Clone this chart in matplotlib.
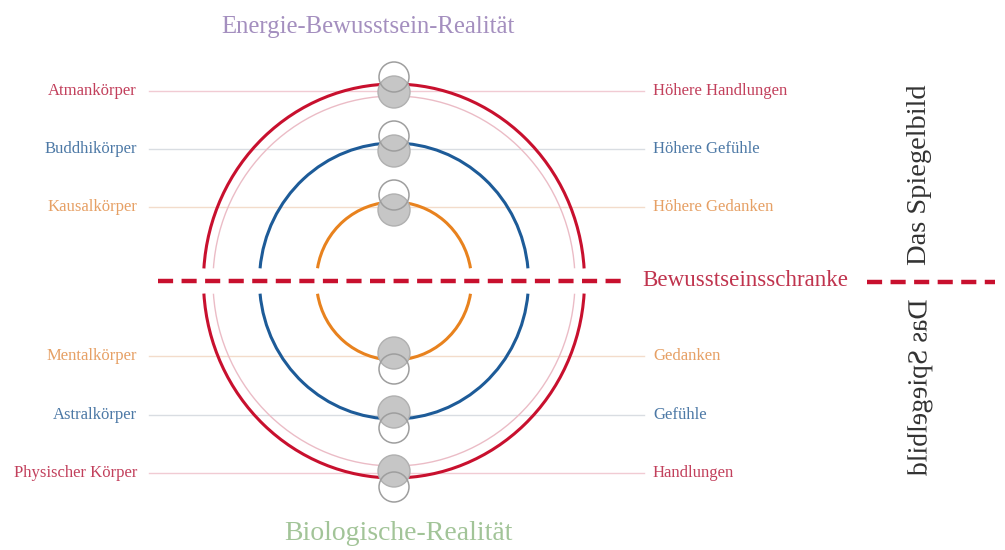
import matplotlib
matplotlib.use("Agg")
import matplotlib.pyplot as plt
from matplotlib.patches import Arc, Circle
from matplotlib import patheffects
from matplotlib.transforms import Affine2D
import numpy as np

# ---------------- data ----------------
title_top = "Energie-Bewusstsein-Realität"
title_bottom = "Biologische-Realität"
barrier_label = "Bewusstseinsschranke"
mirror_label = "Das Spiegelbild"

left_labels = ["Atmankörper", "Buddhikörper", "Kausalkörper",
               "Mentalkörper", "Astralkörper", "Physischer Körper"]
right_labels = ["Höhere Handlungen", "Höhere Gefühle", "Höhere Gedanken",
                "Gedanken", "Gefühle", "Handlungen"]
ring_names = ["Atman", "Buddhi", "Kausal"]          # outer -> inner
ring_of_row = [0, 1, 2, 2, 1, 0]                      # ring each row belongs to

# ---------------- layout / style ----------------
W, H = 1005, 550
cx, cy = 394, 281
ring_rx = [190.5, 134.5, 77.5]
ring_ry = [197, 138, 79]
thin_rx, thin_ry = 181, 185
gap = 13
row_y = [91, 149, 207, 356, 415, 473]

ring_colors = ["#c8102e", "#1d5b98", "#e8821e"]
label_colors = ["#c2405c", "#4d79a6", "#e6a065"]
hline_colors = ["#f1cbd3", "#d9dde2", "#f3dccb"]

SERIF = ["Liberation Serif", "DejaVu Serif"]

fig = plt.figure(figsize=(W / 100, H / 100), dpi=100)
ax = fig.add_axes([0, 0, 1, 1])
ax.set_xlim(0, W)
ax.set_ylim(H, 0)
ax.axis("off")

# horizontal guide lines
for y, r in zip(row_y, ring_of_row):
    ax.plot([149, 644], [y, y], color=hline_colors[r], lw=1.0, zorder=1)


def gapped_arcs(rx, ry, color, lw, z):
    a = np.degrees(np.arcsin(gap / ry))
    for t1, t2 in [(a, 180 - a), (180 + a, 360 - a)]:
        ax.add_patch(Arc((cx, cy), 2 * rx, 2 * ry, theta1=t1, theta2=t2,
                         color=color, lw=lw, zorder=z))


gapped_arcs(thin_rx, thin_ry, "#ebbcc6", 1.0, 2)
for rx, ry, c in zip(ring_rx, ring_ry, ring_colors):
    gapped_arcs(rx, ry, c, 2.2, 3)

# gray nodes at top and bottom of each ring
for ry in ring_ry:
    top = cy - ry
    bot = cy + ry
    for fy, hy in [(top + 8, top - 7), (bot - 7, bot + 9)]:
        ax.add_patch(Circle((cx, fy), 16, facecolor="#c6c6c6",
                            edgecolor="#b0b0b0", lw=1.0, zorder=4))
        ax.add_patch(Circle((cx, hy), 15, facecolor="none",
                            edgecolor="#9e9e9e", lw=1.1, zorder=5))

# labels
for y, r, lt, rt in zip(row_y, ring_of_row, left_labels, right_labels):
    ax.text(137, y, lt, ha="right", va="center", color=label_colors[r],
            fontsize=12, family=SERIF, zorder=6)
    ax.text(653, y, rt, ha="left", va="center", color=label_colors[r],
            fontsize=12, family=SERIF, zorder=6)

# barrier line
ls = (0, (3.4, 1.9))
ax.plot([158, 626], [280.5, 280.5], color="#c8102e", lw=3.2, ls=ls, zorder=7)
ax.plot([867, 995], [281.5, 281.5], color="#c8102e", lw=3.2, ls=ls, zorder=7)
ax.text(642, cy, barrier_label, ha="left", va="center", color="#c0344e",
        fontsize=16.6, family=SERIF, zorder=7)

# titles
ax.text(368, 27, title_top, ha="center", va="center", color="#a48fbf",
        fontsize=17.8, family=SERIF)
ax.text(398, 533, title_bottom, ha="center", va="center", color="#a2c498",
        fontsize=20, family=SERIF)


# mirrored text via a path effect (text remains a real Text artist)
class VerticalMirror(patheffects.AbstractPathEffect):
    def draw_path(self, renderer, gc, tpath, affine, rgbFace=None):
        ext = tpath.get_extents(affine)
        yc = (ext.y0 + ext.y1) / 2
        m = affine + Affine2D().translate(0, -yc).scale(1, -1).translate(0, yc)
        renderer.draw_path(gc, tpath, m, rgbFace)


ax.text(920, 175, mirror_label, rotation=90, ha="center", va="center",
        color="#333333", fontsize=20.5, family=SERIF)
ax.text(920, 388, mirror_label, rotation=90, ha="center", va="center",
        color="#333333", fontsize=20, family=SERIF,
        path_effects=[VerticalMirror()])

fig.savefig("out.png", dpi=100)
